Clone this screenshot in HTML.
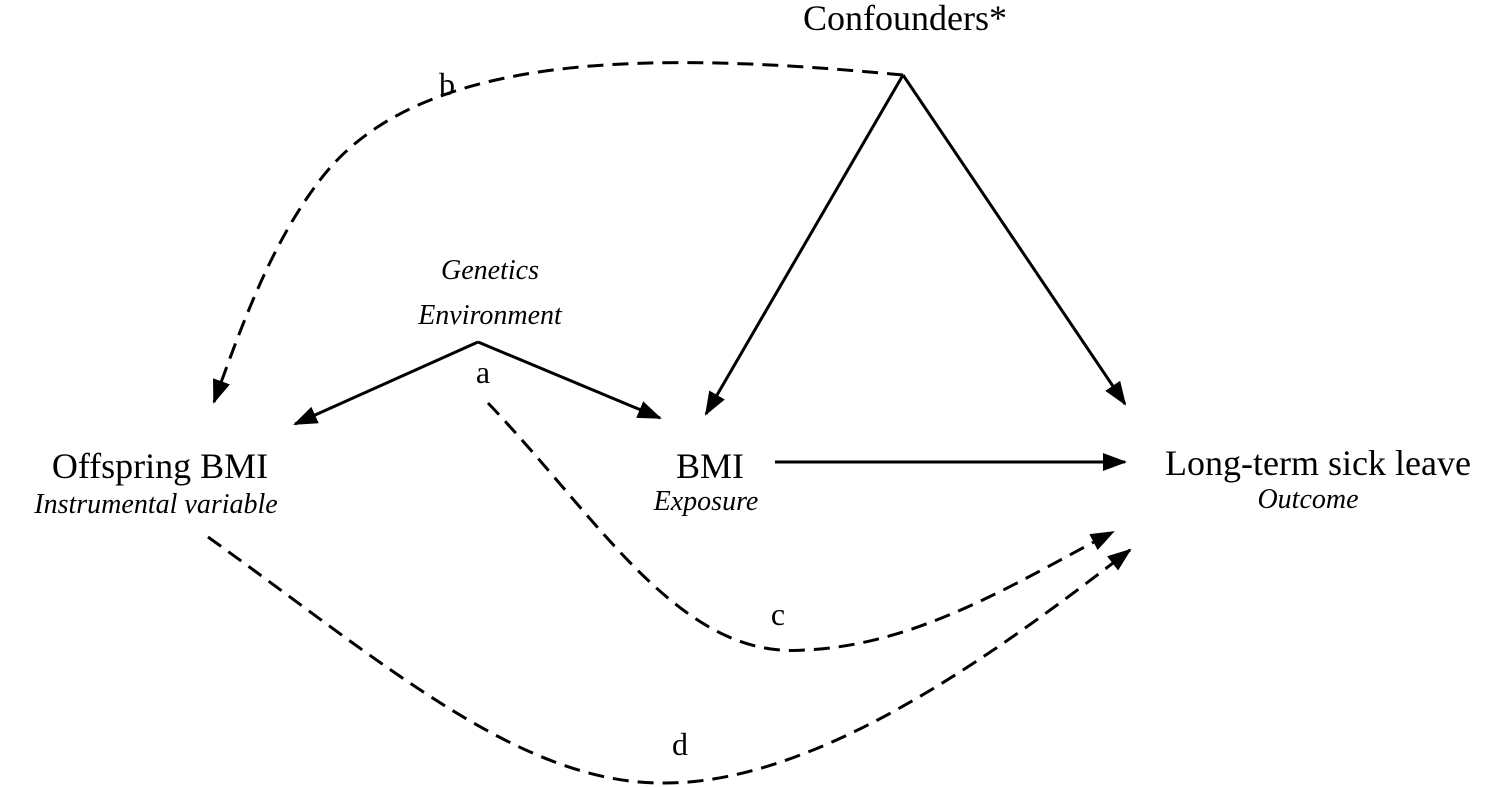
<!DOCTYPE html>
<html><head><meta charset="utf-8"><style>
html,body{margin:0;padding:0;background:#fff;}
svg{display:block;}
text{font-family:"Liberation Serif",serif;fill:#000;}
.it{font-style:italic;}
</style></head><body>
<svg width="1498" height="787" viewBox="0 0 1498 787" xmlns="http://www.w3.org/2000/svg">
<defs>
<marker id="ah" markerWidth="24" markerHeight="18" refX="22" refY="9" orient="auto" markerUnits="userSpaceOnUse">
<path d="M0,0 L24,9 L0,18 Z" fill="#000"/>
</marker>
</defs>
<g stroke="#000" stroke-width="3" fill="none">
<!-- solid -->
<line x1="903" y1="75" x2="706" y2="414" marker-end="url(#ah)"/>
<line x1="903" y1="75" x2="1125" y2="404" marker-end="url(#ah)"/>
<line x1="478" y1="342" x2="295" y2="424" marker-end="url(#ah)"/>
<line x1="478" y1="342" x2="660" y2="418" marker-end="url(#ah)"/>
<line x1="775" y1="462" x2="1125" y2="462" marker-end="url(#ah)"/>
<!-- dashed -->
<g stroke-dasharray="16,9">
<path d="M903,75 C660,52 420,48 320,180 C270,245 240,330 214,402" marker-end="url(#ah)"/>
<path d="M488,403 C600,520 680,660 805,650 C920,645 1020,580 1113,532" marker-end="url(#ah)"/>
<path d="M208,537 C380,660 520,785 665,783 C820,783 1000,650 1130,550" marker-end="url(#ah)"/>
</g>
</g>
<text x="905" y="30" font-size="36" text-anchor="middle">Confounders*</text>
<text x="447" y="95" font-size="32" text-anchor="middle">b</text>
<text x="490" y="279" font-size="28" text-anchor="middle" class="it">Genetics</text>
<text x="490" y="324" font-size="28" text-anchor="middle" class="it">Environment</text>
<text x="483" y="383" font-size="32" text-anchor="middle">a</text>
<text x="160" y="478" font-size="36" text-anchor="middle">Offspring BMI</text>
<text x="156" y="513" font-size="28" text-anchor="middle" class="it">Instrumental variable</text>
<text x="710" y="478" font-size="36" text-anchor="middle">BMI</text>
<text x="706" y="510" font-size="28" text-anchor="middle" class="it">Exposure</text>
<text x="1318" y="475" font-size="36" text-anchor="middle">Long-term sick leave</text>
<text x="1308" y="508" font-size="28" text-anchor="middle" class="it">Outcome</text>
<text x="778" y="625" font-size="32" text-anchor="middle">c</text>
<text x="680" y="755" font-size="32" text-anchor="middle">d</text>
</svg>
</body></html>
